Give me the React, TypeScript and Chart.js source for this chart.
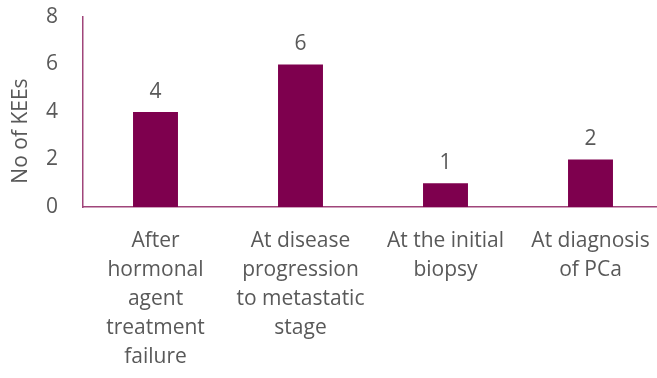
import React, { useEffect, useRef } from "react";
import { Chart, registerables } from "chart.js";

Chart.register(...registerables);

const categories: string[][] = [
  ["After", "hormonal", "agent", "treatment", "failure"],
  ["At disease", "progression", "to metastatic", "stage"],
  ["At the initial", "biopsy"],
  ["At diagnosis", "of PCa"],
];
const keeCounts: number[] = [4, 6, 1, 2];
const yTicks: number[] = [0, 2, 4, 6, 8];
const yTitle = "No of KEEs";

const BAR_COLOR = "#7E004E";
const AXIS_COLOR = "#A0457A";
const TEXT_COLOR = "#595959";
const FONT = "'Open Sans', sans-serif";
const FONT_SIZE = 21;

// Draws each bar's value centred above it, and the rotated y-axis title.
const annotations = {
  id: "annotations",
  afterDatasetsDraw(chart: any) {
    const { ctx, chartArea } = chart;
    const meta = chart.getDatasetMeta(0);
    ctx.save();
    ctx.fillStyle = TEXT_COLOR;
    ctx.font = `${FONT_SIZE}px ${FONT}`;
    ctx.textAlign = "center";
    ctx.textBaseline = "middle";
    meta.data.forEach((bar: any, i: number) => {
      ctx.fillText(String(keeCounts[i]), bar.x, bar.y - 20);
    });
    ctx.translate(21, chartArea.top + (chartArea.bottom - chartArea.top) * 0.6);
    ctx.rotate(-Math.PI / 2);
    ctx.fillText(yTitle, 0, 0);
    ctx.restore();
  },
};

export default function App() {
  const canvasRef = useRef<HTMLCanvasElement | null>(null);

  useEffect(() => {
    if (!canvasRef.current) return;
    const chart = new Chart(canvasRef.current, {
      type: "bar",
      data: {
        labels: categories,
        datasets: [
          {
            data: keeCounts,
            backgroundColor: BAR_COLOR,
            borderWidth: 0,
            barPercentage: 0.31,
            categoryPercentage: 1,
          },
        ],
      },
      options: {
        responsive: false,
        animation: false,
        layout: { padding: 0 },
        plugins: {
          legend: { display: false },
          tooltip: { enabled: false },
        },
        scales: {
          x: {
            grid: { display: false, drawTicks: false },
            border: { display: true, color: AXIS_COLOR, width: 1.5 },
            ticks: {
              color: TEXT_COLOR,
              font: { family: FONT, size: FONT_SIZE, lineHeight: 1.38 },
              padding: 20,
              maxRotation: 0,
              autoSkip: false,
            },
            afterFit(scale: any) {
              scale.height = 171;
              scale.paddingLeft = 0;
              scale.paddingRight = 0;
            },
          },
          y: {
            min: 0,
            max: 8,
            afterBuildTicks(scale: any) {
              scale.ticks = yTicks.map((v) => ({ value: v }));
            },
            grid: { display: false, drawTicks: false },
            border: { display: true, color: AXIS_COLOR, width: 1.5 },
            ticks: {
              color: TEXT_COLOR,
              font: { family: FONT, size: FONT_SIZE },
              padding: 25,
            },
            afterFit(scale: any) {
              scale.width = 83;
              scale.paddingTop = 17;
              scale.paddingBottom = 0;
            },
          },
        },
      },
      plugins: [annotations],
    });
    return () => chart.destroy();
  }, []);

  // The plot runs slightly past the right edge of the frame, so the canvas is
  // a few pixels wider than the clipping container.
  return (
    <div
      style={{
        position: "fixed",
        left: 0,
        top: 0,
        width: 657,
        height: 378,
        overflow: "hidden",
        background: "#fff",
      }}
    >
      <canvas ref={canvasRef} width={663} height={378} style={{ display: "block" }} />
    </div>
  );
}
